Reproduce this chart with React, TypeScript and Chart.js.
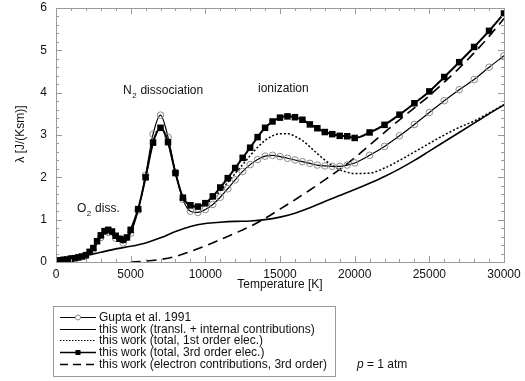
import { useEffect, useRef } from 'react';
import { Chart, registerables } from 'chart.js';
Chart.register(...registerables);

// Gupta et al. 1991
const guptaT = [0, 500, 1000, 1500, 2000, 2500, 3000, 3500, 4000, 4500, 5000, 5500, 6000, 6500, 7000, 7500, 8000, 8500, 9000, 9500, 10000, 10500, 11000, 11500, 12000, 12500, 13000, 13500, 14000, 14500, 15000, 15500, 16000, 16500, 17000, 17500, 18000, 18500, 19000, 19500, 20000, 21000, 22000, 23000, 24000, 25000, 26000, 27000, 28000, 29000, 30000];
const guptaV = [0.03, 0.05, 0.08, 0.11, 0.16, 0.30, 0.58, 0.70, 0.56, 0.45, 0.68, 1.22, 2.05, 3.02, 3.47, 2.95, 2.12, 1.48, 1.20, 1.17, 1.24, 1.36, 1.53, 1.73, 1.94, 2.14, 2.30, 2.42, 2.50, 2.52, 2.49, 2.45, 2.41, 2.37, 2.33, 2.29, 2.27, 2.26, 2.26, 2.29, 2.34, 2.52, 2.73, 2.98, 3.25, 3.53, 3.81, 4.07, 4.31, 4.60, 4.87];

// this work (transl. + internal contributions)
const internalT = [0, 1000, 2000, 3000, 4000, 5000, 6000, 7000, 8000, 9000, 10000, 11000, 12000, 13000, 14000, 15000, 16000, 17000, 18000, 19000, 20000, 21000, 22000, 23000, 24000, 25000, 26000, 27000, 28000, 29000, 30000];
const internalV = [0.02, 0.08, 0.15, 0.23, 0.31, 0.37, 0.45, 0.57, 0.72, 0.84, 0.91, 0.94, 0.96, 0.97, 1.00, 1.06, 1.15, 1.28, 1.43, 1.57, 1.71, 1.86, 2.02, 2.20, 2.40, 2.62, 2.84, 3.06, 3.28, 3.50, 3.71];

// this work (total, 1st order elec.)
const firstT = [0, 500, 1000, 1500, 2000, 2500, 3000, 3500, 4000, 4500, 5000, 5500, 6000, 6500, 7000, 7500, 8000, 8500, 9000, 9500, 10000, 10500, 11000, 11500, 12000, 12500, 13000, 13500, 14000, 14500, 15000, 15500, 16000, 16500, 17000, 17500, 18000, 18500, 19000, 19500, 20000, 21000, 22000, 23000, 24000, 25000, 26000, 27000, 28000, 29000, 30000];
const firstV = [0.03, 0.05, 0.08, 0.11, 0.16, 0.33, 0.63, 0.76, 0.62, 0.53, 0.76, 1.25, 2.0, 2.82, 3.17, 2.83, 2.10, 1.52, 1.33, 1.30, 1.37, 1.50, 1.68, 1.88, 2.09, 2.30, 2.51, 2.71, 2.87, 2.98, 3.03, 3.03, 2.97, 2.87, 2.72, 2.56, 2.41, 2.28, 2.18, 2.12, 2.09, 2.10, 2.22, 2.40, 2.60, 2.80, 3.00, 3.18, 3.33, 3.52, 3.72];

// this work (total, 3rd order elec.)
const thirdT = [0, 250, 500, 750, 1000, 1250, 1500, 1750, 2000, 2250, 2500, 2750, 3000, 3250, 3500, 3750, 4000, 4250, 4500, 4750, 5000, 5500, 6000, 6500, 7000, 7500, 8000, 8500, 9000, 9500, 10000, 10500, 11000, 11500, 12000, 12500, 13000, 13500, 14000, 14500, 15000, 15500, 16000, 16500, 17000, 17500, 18000, 18500, 19000, 19500, 20000, 21000, 22000, 23000, 24000, 25000, 26000, 27000, 28000, 29000, 30000];
const thirdV = [0.03, 0.04, 0.05, 0.06, 0.08, 0.09, 0.11, 0.13, 0.16, 0.24, 0.33, 0.49, 0.63, 0.73, 0.76, 0.72, 0.62, 0.55, 0.53, 0.58, 0.76, 1.25, 2.0, 2.82, 3.17, 2.83, 2.10, 1.52, 1.34, 1.31, 1.39, 1.55, 1.76, 1.98, 2.22, 2.46, 2.70, 2.95, 3.17, 3.32, 3.41, 3.44, 3.42, 3.36, 3.25, 3.16, 3.07, 3.02, 2.98, 2.97, 2.93, 3.06, 3.24, 3.48, 3.75, 4.03, 4.37, 4.72, 5.08, 5.46, 5.87];

// this work (electron contributions, 3rd order)
const electronT = [5000, 6000, 7000, 8000, 9000, 10000, 11000, 12000, 13000, 14000, 15000, 16000, 17000, 18000, 19000, 20000, 21000, 22000, 23000, 24000, 25000, 26000, 27000, 28000, 29000, 30000];
const electronV = [0.0, 0.02, 0.06, 0.13, 0.25, 0.38, 0.53, 0.68, 0.84, 1.03, 1.25, 1.47, 1.70, 1.94, 2.19, 2.46, 2.76, 3.06, 3.36, 3.64, 3.93, 4.25, 4.58, 4.94, 5.33, 5.75];

const xTickValues = [0, 5000, 10000, 15000, 20000, 25000, 30000];
const yTickValues = [0, 1, 2, 3, 4, 5, 6];

const legendLabels = [
  'Gupta et al. 1991',
  'this work (transl. + internal contributions)',
  'this work (total, 1st order elec.)',
  'this work (total, 3rd order elec.)',
  'this work (electron contributions, 3rd order)',
];

const FONT = '"Liberation Sans", Arial, Helvetica, sans-serif';

const pts = (xs: number[], ys: number[]) => xs.map((x, i) => ({ x, y: ys[i] }));

const decorPlugin = {
  id: 'decor',
  afterDraw(chart: any) {
    const ctx = chart.ctx as CanvasRenderingContext2D;
    const { left, right, top, bottom } = chart.chartArea;
    const xs = chart.scales.x;
    const ys = chart.scales.y;
    ctx.save();
    // frame
    ctx.strokeStyle = '#9a9a9a';
    ctx.lineWidth = 1;
    ctx.setLineDash([]);
    ctx.strokeRect(Math.round(left) + 0.5, Math.round(top) + 0.5, Math.round(right - left), Math.round(bottom - top));
    // ticks (inward, on all four sides)
    ctx.beginPath();
    for (let t = 0; t <= 30000; t += 1000) {
      const len = t % 5000 === 0 ? 6 : 3;
      const px = Math.round(xs.getPixelForValue(t)) + 0.5;
      ctx.moveTo(px, bottom);
      ctx.lineTo(px, bottom - len);
      ctx.moveTo(px, top);
      ctx.lineTo(px, top + len);
    }
    for (let k = 0; k <= 30; k++) {
      const v = k * 0.2;
      const len = k % 5 === 0 ? 6 : 3;
      const py = Math.round(ys.getPixelForValue(v)) + 0.5;
      ctx.moveTo(left, py);
      ctx.lineTo(left + len, py);
      ctx.moveTo(right, py);
      ctx.lineTo(right - len, py);
    }
    ctx.stroke();

    // titles
    ctx.fillStyle = '#111';
    ctx.font = `12px ${FONT}`;
    ctx.textAlign = 'center';
    ctx.textBaseline = 'middle';
    ctx.fillText('Temperature [K]', (left + right) / 2, 285);
    ctx.save();
    ctx.translate(21, 134);
    ctx.rotate(-Math.PI / 2);
    ctx.fillText('λ [J/(Ksm)]', 0, 0);
    ctx.restore();

    // annotations
    const sub = (base: string, s: string, rest: string, x: number, y: number) => {
      ctx.textAlign = 'left';
      ctx.font = `12px ${FONT}`;
      ctx.fillText(base, x, y);
      let w = ctx.measureText(base).width;
      ctx.font = `8px ${FONT}`;
      ctx.fillText(s, x + w + 0.5, y + 5);
      w += ctx.measureText(s).width + 1;
      ctx.font = `12px ${FONT}`;
      ctx.fillText(rest, x + w, y);
    };
    sub('O', '2', ' diss.', 77, 209);
    sub('N', '2', ' dissociation', 123, 91);
    ctx.textAlign = 'left';
    ctx.font = `12px ${FONT}`;
    ctx.fillText('ionization', 258, 89);

    // legend box
    ctx.strokeStyle = '#9a9a9a';
    ctx.lineWidth = 1;
    ctx.strokeRect(53.5, 306.5, 282, 70);
    const x1 = 60, x2 = 96, xm = 78;
    for (let i = 0; i < 5; i++) {
      const y = Math.round(317 + i * 11.7) + 0.5;
      ctx.strokeStyle = '#000';
      ctx.setLineDash([]);
      ctx.lineWidth = 1;
      if (i === 2) ctx.setLineDash([1.5, 1.5]);
      if (i === 3) ctx.lineWidth = 1.5;
      if (i === 4) { ctx.setLineDash([8, 5]); ctx.lineWidth = 1.3; }
      ctx.beginPath();
      ctx.moveTo(x1, y);
      ctx.lineTo(x2, y);
      ctx.stroke();
      ctx.setLineDash([]);
      if (i === 0) {
        ctx.beginPath();
        ctx.arc(xm, y, 2.5, 0, Math.PI * 2);
        ctx.fillStyle = '#fff';
        ctx.fill();
        ctx.strokeStyle = '#888';
        ctx.stroke();
      }
      if (i === 3) {
        ctx.fillStyle = '#000';
        ctx.fillRect(xm - 2.5, y - 2.5, 5, 5);
      }
      ctx.fillStyle = '#111';
      ctx.font = `12px ${FONT}`;
      ctx.textAlign = 'left';
      ctx.textBaseline = 'middle';
      ctx.fillText(legendLabels[i], 99, y);
    }
    // p = 1 atm
    ctx.font = `italic 12px ${FONT}`;
    ctx.fillText('p', 357, 365);
    const pw = ctx.measureText('p').width;
    ctx.font = `12px ${FONT}`;
    ctx.fillText(' = 1 atm', 357 + pw, 365);
    ctx.restore();
  },
};

export default function App() {
  const ref = useRef<HTMLCanvasElement | null>(null);
  useEffect(() => {
    if (!ref.current) return;
    const lineBase = {
      showLine: true,
      cubicInterpolationMode: 'monotone' as const,
      borderColor: '#000',
      fill: false,
    };
    const chart = new Chart(ref.current, {
      type: 'scatter',
      data: {
        datasets: [
          {
            ...lineBase,
            label: legendLabels[3],
            data: pts(thirdT, thirdV),
            borderWidth: 2,
            pointStyle: 'rect',
            pointRadius: 4.6,
            pointBackgroundColor: '#000',
            pointBorderColor: '#000',
            pointBorderWidth: 0,
            order: 0,
          },
          {
            ...lineBase,
            label: legendLabels[0],
            data: pts(guptaT, guptaV),
            borderWidth: 1.2,
            pointStyle: 'circle',
            pointRadius: 3.3,
            pointBackgroundColor: 'rgba(0,0,0,0)',
            pointBorderColor: '#8a8a8a',
            pointBorderWidth: 1,
            order: 1,
          },
          {
            ...lineBase,
            label: legendLabels[2],
            data: pts(firstT, firstV),
            borderWidth: 1.5,
            borderDash: [2, 2],
            pointRadius: 0,
            order: 2,
          },
          {
            ...lineBase,
            label: legendLabels[1],
            data: pts(internalT, internalV),
            borderWidth: 1.6,
            pointRadius: 0,
            order: 3,
          },
          {
            ...lineBase,
            label: legendLabels[4],
            data: pts(electronT, electronV),
            borderWidth: 1.6,
            borderDash: [10, 6],
            pointRadius: 0,
            order: 4,
          },
        ],
      },
      options: {
        animation: false,
        responsive: false,
        events: [],
        layout: { padding: { left: 0, right: 21, top: 8, bottom: 0 } },
        plugins: { legend: { display: false }, tooltip: { enabled: false } },
        scales: {
          x: {
            type: 'linear',
            min: 0,
            max: 30000,
            afterFit: (s: any) => { s.height = 119; s.paddingLeft = 0; s.paddingRight = 0; },
            afterBuildTicks: (s: any) => { s.ticks = xTickValues.map((v) => ({ value: v })); },
            ticks: { color: '#111', font: { size: 12, family: FONT }, padding: 5, maxRotation: 0, autoSkip: false, callback: (v: any) => String(v) },
            grid: { display: false, drawTicks: false },
            border: { display: false },
          },
          y: {
            type: 'linear',
            min: 0,
            max: 6,
            afterFit: (s: any) => { s.width = 56; s.paddingTop = 0; s.paddingBottom = 0; },
            afterBuildTicks: (s: any) => { s.ticks = yTickValues.map((v) => ({ value: v })); },
            ticks: { color: '#111', font: { size: 12, family: FONT }, padding: 9, autoSkip: false, callback: (v: any) => String(v) },
            grid: { display: false, drawTicks: false },
            border: { display: false },
          },
        },
      },
      plugins: [decorPlugin],
    });
    return () => chart.destroy();
  }, []);
  return (
    <div style={{ position: 'fixed', left: 0, top: 0, width: 525, height: 381, background: '#fff' }}>
      <canvas ref={ref} width={525} height={381} style={{ display: 'block' }} />
    </div>
  );
}
